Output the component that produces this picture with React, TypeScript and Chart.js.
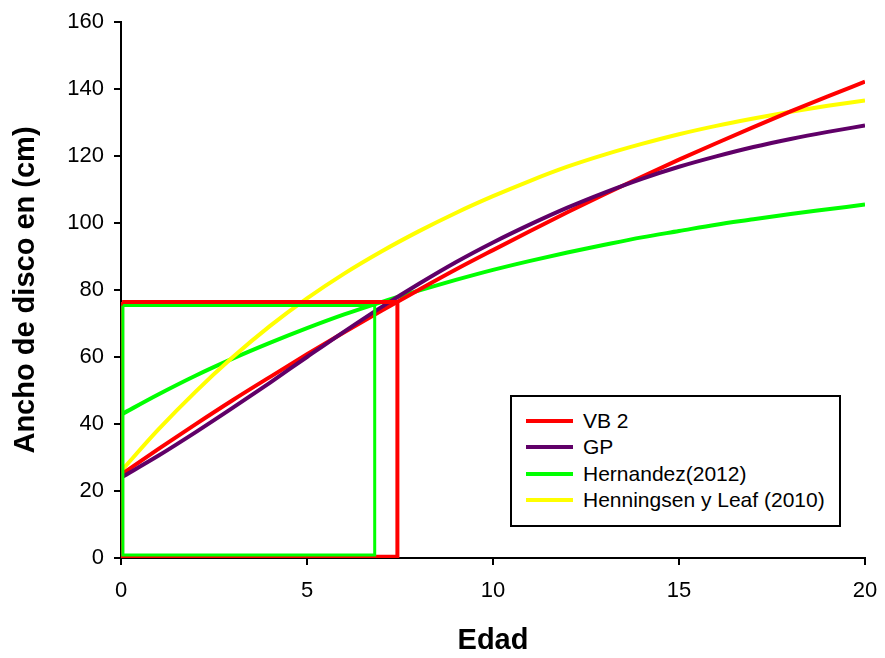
import React, { useEffect, useRef } from 'react';
import { Chart, registerables } from 'chart.js';

Chart.register(...registerables);

// Age (Edad), years
const ages = [0, 1, 2, 3, 4, 5, 6, 7, 8, 9, 10, 11, 12, 13, 14, 15, 16, 17, 18, 19, 20];

// Disc width (cm) per model
const vb2 = [24.9, 32.5, 39.9, 47.1, 54.0, 60.8, 67.4, 73.8, 80.0, 86.1, 91.9, 97.6, 103.2, 108.6, 113.8, 118.9, 123.8, 128.6, 133.3, 137.8, 142.2];
const gp = [24.0, 30.5, 37.5, 44.8, 52.3, 60.0, 67.6, 74.9, 81.8, 88.3, 94.2, 99.6, 104.6, 109.1, 113.2, 116.8, 119.9, 122.7, 125.1, 127.2, 129.1];
const hernandez = [42.8, 48.8, 54.4, 59.5, 64.2, 68.6, 72.7, 76.4, 79.8, 83.0, 86.0, 88.7, 91.2, 93.5, 95.7, 97.6, 99.5, 101.1, 102.7, 104.1, 105.5];
const henningsen = [25.9, 38.3, 49.6, 59.9, 69.2, 77.5, 84.9, 91.5, 97.5, 103.0, 108.0, 112.6, 116.8, 120.4, 123.6, 126.5, 129.0, 131.2, 133.2, 135.0, 136.6];

const seriesLabels = ['VB 2', 'GP', 'Hernandez(2012)', 'Henningsen y Leaf (2010)'];
const seriesColors = ['#FF0000', '#600068', '#00FF00', '#FFFF00'];

// Reference boxes (age, width at which curves are marked)
const vb2BoxX = [0.03, 7.43, 7.43, 0.03, 0.03];
const vb2BoxY = [76.4, 76.4, 0.4, 0.4, 76.4];
const hernBoxX = [0.05, 6.82, 6.82, 0.05, 0.05];
const hernBoxY = [75.4, 75.4, 0.9, 0.9, 75.4];

const xTicks = [0, 5, 10, 15, 20];
const yTicks = [0, 20, 40, 60, 80, 100, 120, 140, 160];

const xTitle = 'Edad';
const yTitle = 'Ancho de disco en (cm)';

const FONT = '"Liberation Sans", Arial, Helvetica, sans-serif';

const toPoints = (xs: number[], ys: number[]) => xs.map((x, i) => ({ x, y: ys[i] }));

export default function App() {
  const canvasRef = useRef<HTMLCanvasElement | null>(null);

  useEffect(() => {
    const canvas = canvasRef.current;
    if (!canvas) return;
    const seriesData = [vb2, gp, hernandez, henningsen];
    const curveOrder = [3, 2, 5, 4];
    const curves = seriesData.map((ys, i) => ({
      label: seriesLabels[i],
      data: toPoints(ages, ys),
      borderColor: seriesColors[i],
      backgroundColor: seriesColors[i],
      borderWidth: 4,
      pointRadius: 0,
      cubicInterpolationMode: 'monotone' as const,
      fill: false,
      order: curveOrder[i],
    }));
    const boxes = [
      {
        label: 'VB 2 box',
        data: toPoints(vb2BoxX, vb2BoxY),
        borderColor: seriesColors[0],
        borderWidth: 4,
        pointRadius: 0,
        tension: 0,
        borderJoinStyle: 'miter' as const,
        fill: false,
        order: 1,
      },
      {
        label: 'Hernandez box',
        data: toPoints(hernBoxX, hernBoxY),
        borderColor: seriesColors[2],
        borderWidth: 3,
        pointRadius: 0,
        tension: 0,
        borderJoinStyle: 'miter' as const,
        fill: false,
        order: 0,
      },
    ];

    const chart = new Chart(canvas, {
      type: 'line',
      data: { datasets: [...curves, ...boxes] as any },
      options: {
        animation: false,
        responsive: false,
        maintainAspectRatio: false,
        layout: { padding: { left: 0, right: 20, top: 22, bottom: 0 } },
        plugins: {
          legend: { display: false },
          tooltip: { enabled: false },
        },
        scales: {
          x: {
            type: 'linear',
            min: 0,
            max: 20,
            afterBuildTicks: (scale: any) => {
              scale.ticks = xTicks.map((v) => ({ value: v }));
            },
            afterFit: (scale: any) => {
              scale.height = 100;
              scale.paddingLeft = 0;
              scale.paddingRight = 0;
            },
            ticks: {
              color: '#000',
              font: { family: FONT, size: 22 },
              padding: 13,
              maxRotation: 0,
            },
            grid: {
              drawOnChartArea: false,
              drawTicks: true,
              tickLength: 7,
              color: '#000',
              lineWidth: 2,
            },
            border: { color: '#000', width: 2 },
            title: {
              display: true,
              text: xTitle,
              color: '#000',
              font: { family: FONT, size: 29, weight: 'bold' },
              padding: { top: 0, bottom: 0 },
            },
          },
          y: {
            type: 'linear',
            min: 0,
            max: 160,
            afterBuildTicks: (scale: any) => {
              scale.ticks = yTicks.map((v) => ({ value: v }));
            },
            afterFit: (scale: any) => {
              scale.width = 121;
              scale.paddingTop = 0;
              scale.paddingBottom = 0;
            },
            ticks: {
              color: '#000',
              font: { family: FONT, size: 22 },
              padding: 10,
            },
            grid: {
              drawOnChartArea: false,
              drawTicks: true,
              tickLength: 7,
              color: '#000',
              lineWidth: 2,
            },
            border: { color: '#000', width: 2 },
            title: {
              display: true,
              text: yTitle,
              color: '#000',
              font: { family: FONT, size: 29, weight: 'bold' },
              padding: { top: 9, bottom: 0 },
            },
          },
        },
      },
    });
    return () => chart.destroy();
  }, []);

  return (
    <div style={{ position: 'fixed', left: 0, top: 0, width: 885, height: 658, background: '#fff' }}>
      <canvas ref={canvasRef} width={885} height={658} style={{ display: 'block', width: 885, height: 658 }} />
      <div
        style={{
          position: 'absolute',
          left: 510,
          top: 395,
          width: 331,
          height: 132,
          border: '2px solid #000',
          background: '#fff',
          boxSizing: 'border-box',
          fontFamily: FONT,
          fontSize: 21,
          color: '#000',
          paddingTop: 11,
        }}
      >
        {seriesLabels.map((label, i) => (
          <div key={label} style={{ display: 'flex', alignItems: 'center', height: 26.3, whiteSpace: 'nowrap' }}>
            <span style={{ display: 'inline-block', marginLeft: 14, width: 47, height: 4, background: seriesColors[i] }} />
            <span style={{ marginLeft: 10, lineHeight: '26px' }}>{label}</span>
          </div>
        ))}
      </div>
    </div>
  );
}
